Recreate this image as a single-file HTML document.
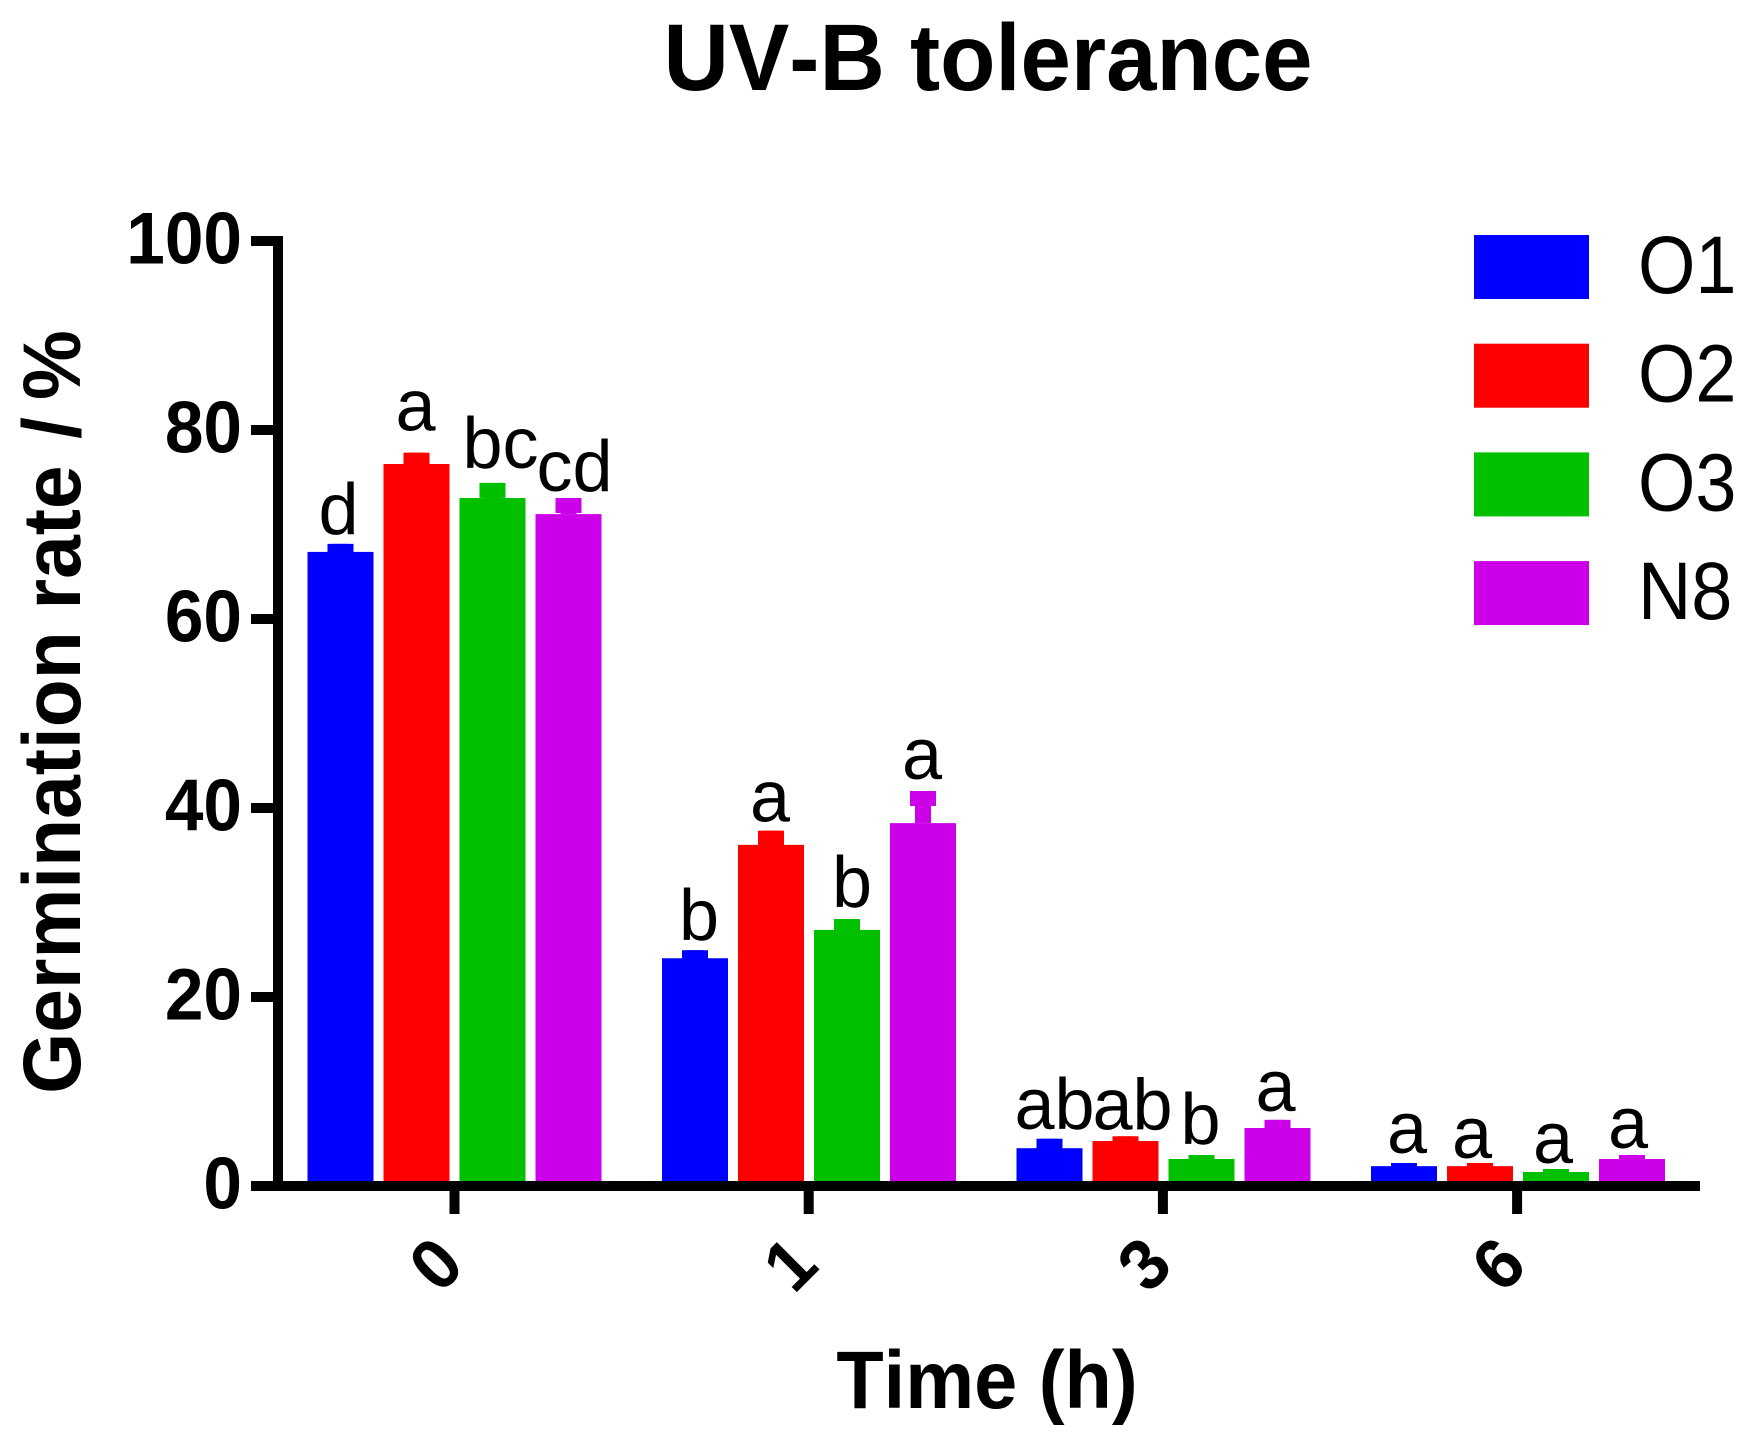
<!DOCTYPE html>
<html lang="en">
<head>
<meta charset="utf-8">
<title>UV-B tolerance</title>
<style>
html,body{margin:0;padding:0;background:#fff;width:1755px;height:1445px;overflow:hidden}
svg{display:block}
text{font-family:"Liberation Sans",Arial,sans-serif;fill:#000;font-kerning:none}
.b{font-weight:700}
</style>
</head>
<body>
<svg id="chart" xmlns="http://www.w3.org/2000/svg" width="1755" height="1445" viewBox="0 0 1755 1445">
  <rect x="0" y="0" width="1755" height="1445" fill="#fff"/>
  <text class="b" font-size="95" text-anchor="middle" transform="translate(988 90) scale(.953 1)">UV-B tolerance</text>
  <text class="b" font-size="82" text-anchor="middle" transform="translate(80 712) rotate(-90) scale(.958 1)">Germination rate <tspan dx="5">/</tspan><tspan dx="-5"> %</tspan></text>
  <text class="b" font-size="82" text-anchor="middle" transform="translate(987 1408) scale(.945 1)">Time (h)</text>
  <g id="bars"></g>
  <g id="labels"></g>
  <g id="axes"></g>
  <g id="legend"></g>
</svg>
<script>
const categories = ['0', '1', '3', '6'];
const seriesNames = ['O1', 'O2', 'O3', 'N8'];
const seriesColors = ['#0000ff', '#ff0000', '#00c000', '#cc00e8'];
const yTicks = [0, 20, 40, 60, 80, 100];

const o1Values = [67.1, 24.1, 4.0, 2.1];
const o2Values = [76.4, 36.1, 4.76, 2.1];
const o3Values = [72.8, 27.1, 2.86, 1.48];
const n8Values = [71.1, 38.4, 6.14, 2.86];

const o1Errors = [0.85, 0.85, 1.0, 0.33];
const o2Errors = [1.2, 1.5, 0.5, 0.33];
const o3Errors = [1.6, 1.15, 0.42, 0.32];
const n8Errors = [1.7, 3.4, 0.86, 0.42];

const o1Letters = ['d', 'b', 'ab', 'a'];
const o2Letters = ['a', 'a', 'ab', 'a'];
const o3Letters = ['bc', 'b', 'b', 'a'];
const n8Letters = ['cd', 'a', 'a', 'a'];

const seriesValues = [o1Values, o2Values, o3Values, n8Values];
const seriesErrors = [o1Errors, o2Errors, o3Errors, n8Errors];
const seriesLetters = [o1Letters, o2Letters, o3Letters, n8Letters];

// Axis functions
function yScale(v) { return 1186 - v * 9.45; }
function xScale(catIndex) { return 454.5 + catIndex * 354.2; }
function barCenter(catIndex, seriesIndex) { return 454.5 + catIndex * 354.5 + (seriesIndex - 1.5) * 76; }

// Hand placement of the letter annotations, which do not sit at a fixed gap above the error bars
const letterShiftX = [[-2, 4, 5, 3], [-1, -1, 7, -8], [8, 5, -1, -3], [6, -1, -2, -4]];
const letterGap = [[10, 10, 10, 10], [22, 9, 7, 5], [15, 12, 11, 6], [7, 12, 9, 7]];

const NS = 'http://www.w3.org/2000/svg';
function make(tag, parent, props, content) {
  const el = document.createElementNS(NS, tag);
  for (const k in props) el.setAttribute(k, props[k]);
  if (content !== undefined) el.textContent = content;
  parent.appendChild(el);
  return el;
}

const barsG = document.getElementById('bars');
const labelsG = document.getElementById('labels');
const axesG = document.getElementById('axes');
const legendG = document.getElementById('legend');

const BAR_W = 66, CAP_W = 26, CAP_H = 15, STEM_W = 16;

seriesValues.forEach(function (values, s) {
  values.forEach(function (v, c) {
    const cx = barCenter(c, s);
    const top = yScale(v);
    const errTop = yScale(v + seriesErrors[s][c]);

    const bar = make('rect', barsG, { x: cx - BAR_W / 2, y: top, width: BAR_W, height: yScale(0) - top, fill: seriesColors[s] });
    
    

    const stem = make('rect', barsG, { x: cx - STEM_W / 2, y: errTop, width: STEM_W, height: Math.max(top - errTop, 0), fill: seriesColors[s] });
    
    

    const cap = make('rect', barsG, { x: cx - CAP_W / 2, y: errTop, width: CAP_W, height: CAP_H, fill: seriesColors[s] });
    
    

    const letter = make('text', labelsG, { x: cx + letterShiftX[s][c], y: errTop - letterGap[s][c], 'font-size': 72, 'text-anchor': 'middle' }, seriesLetters[s][c]);
    
    
  });
});

// Y axis
const yLine = make('rect', axesG, { x: 273, y: yScale(100) - 5, width: 10, height: yScale(0) - yScale(100) + 10, fill: '#000' });



yTicks.forEach(function (t) {
  const tick = make('rect', axesG, { x: 251, y: yScale(t) - 5, width: 22, height: 10, fill: '#000' });
  
  
  const lab = make('text', axesG, { 'font-size': 73, 'font-weight': 700, 'text-anchor': 'end', transform: 'translate(242 ' + (yScale(t) + 22.5) + ') scale(.95 1)' }, String(t));
  
  
});

// X axis
const xLine = make('rect', axesG, { x: 251, y: yScale(0) - 5, width: 1449, height: 10, fill: '#000' });



categories.forEach(function (cat, c) {
  const cx = xScale(c);
  const tick = make('rect', axesG, { x: cx - 5, y: yScale(0) + 5, width: 10, height: 23, fill: '#000' });
  
  
  const lab = make('text', axesG, { x: 0, y: 25, 'font-size': 72, 'font-weight': 700, 'text-anchor': 'middle', transform: 'translate(' + (cx - 19) + ' 1264) rotate(-45) scale(.96 1)' }, cat);
  
  
});

// Legend
seriesNames.forEach(function (name, s) {
  const rowTop = 235 + s * 108.7;
  const swatch = make('rect', legendG, { x: 1474, y: rowTop, width: 115, height: 64, fill: seriesColors[s] });
  
  
  const lab = make('text', legendG, { 'font-size': 82, transform: 'translate(1638 ' + (rowTop + 58) + ') scale(.9 1)' }, name);
  
  
});
</script>
</body>
</html>
